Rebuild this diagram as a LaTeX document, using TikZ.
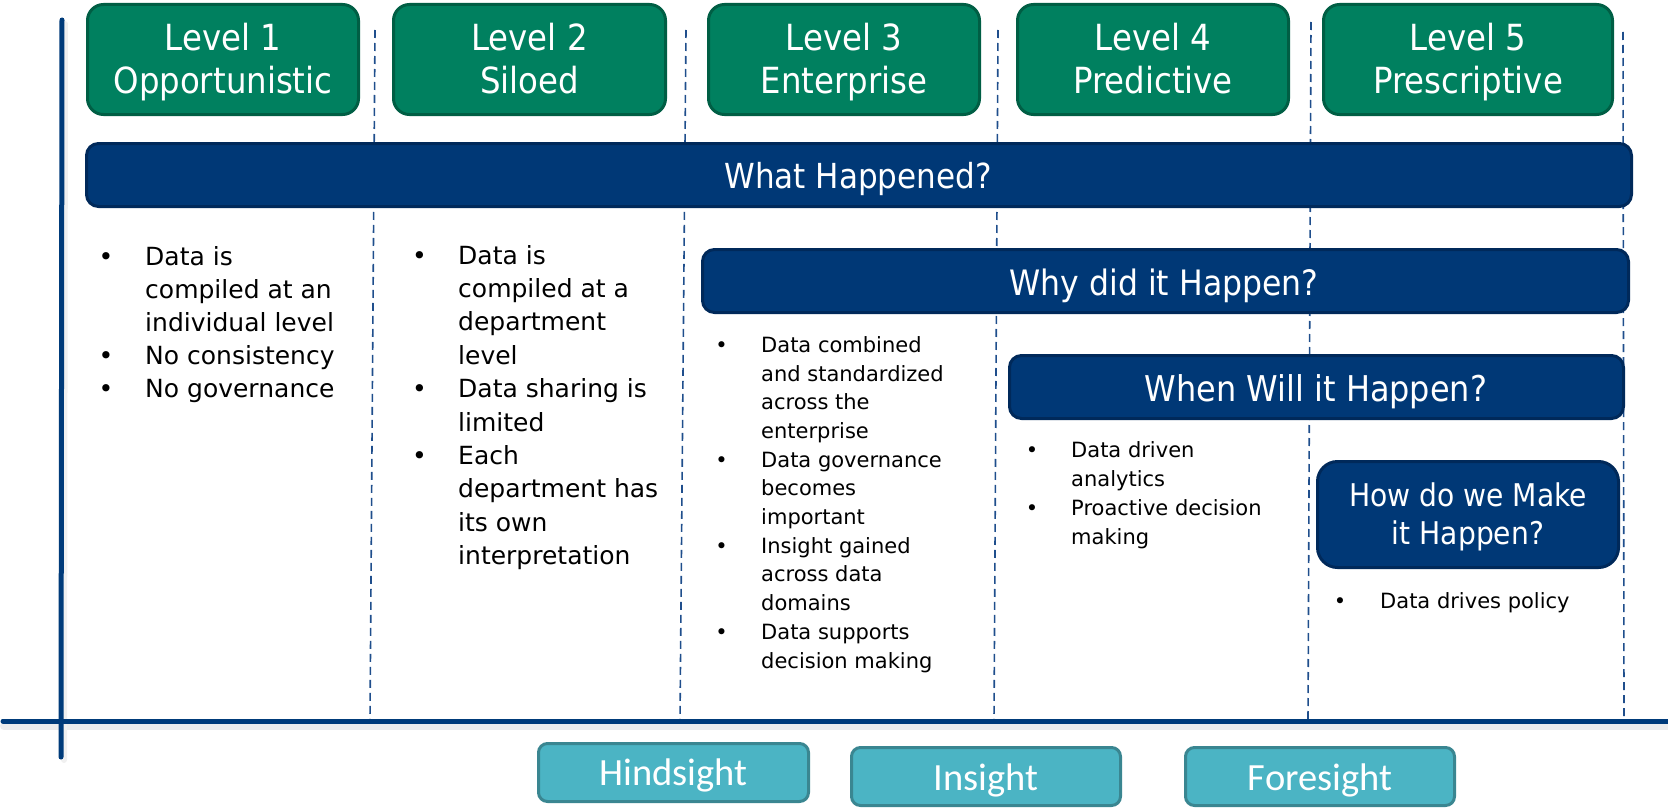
\documentclass[tikz,border=0pt]{standalone}
\usepackage{fontspec}
\setmainfont{DejaVu Sans}
\newfontfamily\condf[FakeStretch=0.9]{DejaVu Sans}
\newfontfamily\calif{Carlito}
\definecolor{lvlF}{HTML}{00805F}
\definecolor{lvlB}{HTML}{005E44}
\definecolor{qF}{HTML}{003876}
\definecolor{qB}{HTML}{00295A}
\definecolor{tF}{HTML}{4BB4C4}
\definecolor{tB}{HTML}{3A8691}
\definecolor{gridC}{HTML}{1F4E8C}
\definecolor{axisC}{HTML}{003B7A}
\begin{document}
\begin{tikzpicture}[x=1pt,y=-1pt,
 lvl/.style={draw=lvlB, fill=lvlF, line width=3pt, rounded corners=16pt, inner sep=0pt},
 qbox/.style={draw=qB, fill=qF, line width=3pt, rounded corners=12pt, inner sep=0pt},
 tbox/.style={draw=tB, fill=tF, line width=3pt, rounded corners=9pt, inner sep=0pt},
 lvltxt/.style={text=white, font=\condf\fontsize{36}{42}\selectfont, anchor=base, inner sep=0pt},
 qtxt/.style={text=white, font=\condf\fontsize{35}{40}\selectfont, anchor=base, inner sep=0pt},
 ttxt/.style={text=white, font=\calif\fontsize{38.5}{44}\selectfont, anchor=base, inner sep=0pt},
 bigtxt/.style={font=\fontsize{25}{30}\selectfont, anchor=base west, inner sep=0pt},
 smalltxt/.style={font=\fontsize{21}{25}\selectfont, anchor=base west, inner sep=0pt},
 bigbul/.style={font=\fontsize{25}{30}\selectfont, anchor=base, inner sep=0pt},
 smallbul/.style={font=\fontsize{21}{25}\selectfont, anchor=base, inner sep=0pt},
 gridline/.style={draw=gridC, line width=1.6pt, dash pattern=on 8pt off 5pt},
 axisline/.style={draw=axisC, line width=5pt, line cap=round}
]
\useasboundingbox (0,0) rectangle (1668,808);
% dashed column separators
\draw[gridline] (375,30) -- (370,720);
\draw[gridline] (686,30) -- (680,720);
\draw[gridline] (998,30) -- (994,720);
\draw[gridline] (1311,22) -- (1308,720);
\draw[gridline] (1623,32) -- (1624,720);
% axes with soft shadow
\draw[line width=8pt, black!7, line cap=round] (4,726) -- (1668,726);
\draw[line width=6pt, black!6, line cap=round] (65,24) -- (64,760);
\draw[axisline] (62,20) -- (61,757);
\draw[axisline] (3,721) -- (1670,721);
% level boxes
\node[lvl, minimum width=271pt, minimum height=110pt] (l1) at (223,59.5) {};
\node[lvl, minimum width=272pt, minimum height=110pt] (l2) at (529.5,59.5) {};
\node[lvl, minimum width=271pt, minimum height=110pt] (l3) at (844,59.5) {};
\node[lvl, minimum width=271pt, minimum height=110pt] (l4) at (1153,59.5) {};
\node[lvl, minimum width=289pt, minimum height=110pt] (l5) at (1468,59.5) {};
\node[lvltxt] (l1a) at (223,51) {Level 1};
\node[lvltxt] (l1b) at (223,93) {Opportunistic};
\node[lvltxt] (l2a) at (529.5,51) {Level 2};
\node[lvltxt] (l2b) at (529.5,93) {Siloed};
\node[lvltxt] (l3a) at (844,51) {Level 3};
\node[lvltxt] (l3b) at (844,93) {Enterprise};
\node[lvltxt] (l4a) at (1153,51) {Level 4};
\node[lvltxt] (l4b) at (1153,93) {Predictive};
\node[lvltxt] (l5a) at (1468,51) {Level 5};
\node[lvltxt] (l5b) at (1468,93) {Prescriptive};
% question boxes
\node[qbox, minimum width=1545pt, minimum height=63pt] (what) at (859,175) {};
\node[qtxt, font=\condf\fontsize{34.5}{40}\selectfont] (whatt) at (858,188) {What Happened?};
\node[qbox, minimum width=926pt, minimum height=63pt] (why) at (1165.5,281) {};
\node[qtxt] (whyt) at (1164,295) {Why did it Happen?};
\node[qbox, minimum width=614pt, minimum height=63pt] (when) at (1316.5,387) {};
\node[qtxt, font=\condf\fontsize{35.5}{40}\selectfont] (whent) at (1316,401) {When Will it Happen?};
\node[qbox, rounded corners=20pt, minimum width=301pt, minimum height=106pt] (how) at (1468,514.5) {};
\node[qtxt, font=\condf\fontsize{31.3}{38}\selectfont] (howa) at (1468,506) {How do we Make};
\node[qtxt, font=\condf\fontsize{31.3}{38}\selectfont] (howb) at (1468,544) {it Happen?};
% column 1
\foreach \t [count=\i from 0] in {Data is, compiled at an, individual level, No consistency, No governance}
  \node[bigtxt] (ca\i) at (145,{265+33*\i}) {\t};
\foreach \k in {0,3,4}
  \node[bigbul] (ba\k) at (106,{265+33*\k}) {•};
% column 2
\foreach \t [count=\i from 0] in {Data is, compiled at a, department, level, Data sharing is, limited, Each, department has, its own, interpretation}
  \node[bigtxt] (cb\i) at (458,{264+33.4*\i}) {\t};
\foreach \k in {0,4,6}
  \node[bigbul] (bb\k) at (419.5,{264+33.4*\k}) {•};
% column 3
\foreach \t [count=\i from 0] in {Data combined, and standardized, across the, enterprise, Data governance, becomes, important, Insight gained, across data, domains, Data supports, decision making}
  \node[smalltxt] (cc\i) at (761,{352.3+28.7*\i}) {\t};
\foreach \k in {0,4,7,10}
  \node[smallbul] (bc\k) at (721.5,{352.3+28.7*\k}) {•};
% column 4
\foreach \t [count=\i from 0] in {Data driven, analytics, Proactive decision, making}
  \node[smalltxt] (cd\i) at (1071,{457+29*\i}) {\t};
\foreach \k in {0,2}
  \node[smallbul] (bd\k) at (1032,{457+29*\k}) {•};
% column 5
\node[smalltxt] (ce0) at (1380,608) {Data drives policy};
\node[smallbul] (be0) at (1340,608) {•};
% bottom boxes
\node[tbox, minimum width=270pt, minimum height=58pt] (hind) at (673.5,772.5) {};
\node[ttxt] (hindt) at (673.5,785) {Hindsight};
\node[tbox, minimum width=269pt, minimum height=58pt] (ins) at (986,776.5) {};
\node[ttxt] (inst) at (986,790) {Insight};
\node[tbox, minimum width=269pt, minimum height=58pt] (fore) at (1320,776.5) {};
\node[ttxt] (foret) at (1320,790) {Foresight};
\end{tikzpicture}
\end{document}
